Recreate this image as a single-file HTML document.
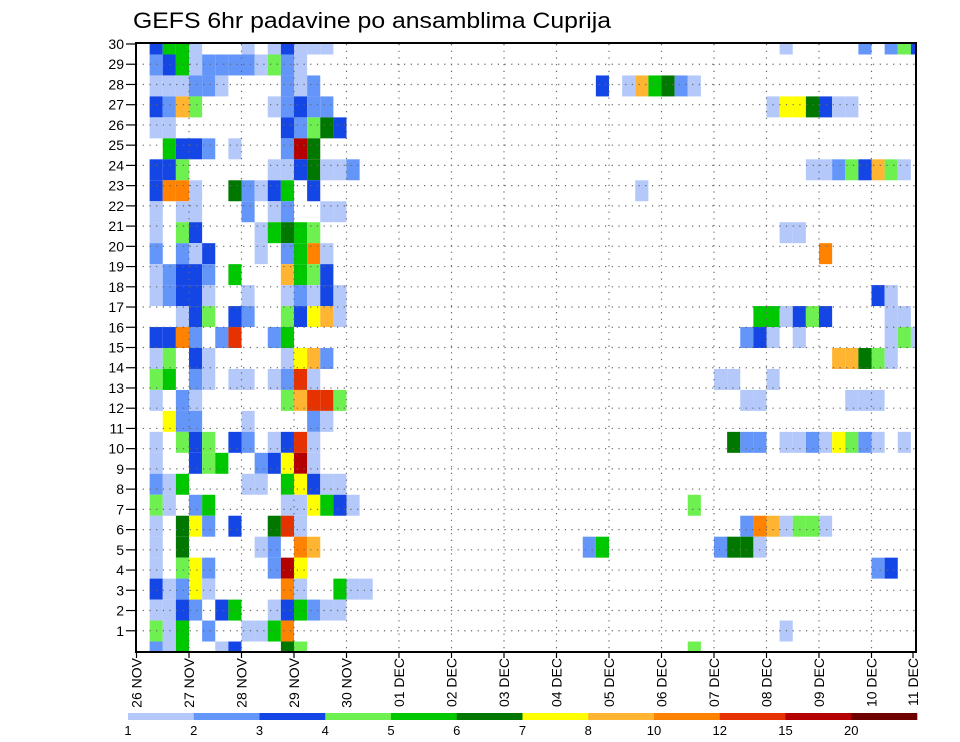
<!DOCTYPE html>
<html><head><meta charset="utf-8"><title>GEFS 6hr padavine po ansamblima Cuprija</title>
<style>
html,body{margin:0;padding:0;background:#fff;}
svg{display:block;font-family:"Liberation Sans",sans-serif;}
</style></head>
<body>
<svg id="chart" width="960" height="742" viewBox="0 0 960 742" xmlns="http://www.w3.org/2000/svg">
<rect x="0" y="0" width="960" height="742" fill="#fff"/>
<text x="133" y="28" font-size="22" textLength="478" lengthAdjust="spacingAndGlyphs" fill="#000">GEFS 6hr padavine po ansamblima Cuprija</text>
<g id="cells"></g>
<g id="grid"></g>
<g id="axes"></g>
<g id="legend"></g>
</svg>
<script>
// ---- data ----
// precipitation level codes per ensemble member row (top row first), 6-hourly steps
// left block: steps 1..17, right block: steps 34..59
const gridLeft = [
"3551...1.13111...",
"235122221421.....",
"111221....212....",
"3284.....12322...",
"11........32463..",
".5332.1...2b6....",
"334......1136112.",
"3991..62135.3....",
"1.11...2.12..11..",
"1.43....15654....",
"2.213...1.2591...",
"12332.5...8543...",
"12331..1..12131..",
"..134.32..43781..",
"3392.2a..25......",
"14.31.....1782...",
"45.21.11.12a1....",
"1.21......48aa4..",
".722...1....21...",
"1.434.32.13a1....",
"1..345..237b1....",
"215....11.57311..",
"41.25.....117531.",
"1.672.3..6a1.....",
"1.6.....12.98....",
"1.472....2b7.....",
"31271.....91..511",
"1132.35..135211..",
"415.2..1159......",
"215..13...64....."
];
const gridRight = [
"...............1.....2.243",
"..........................",
".3.185621.................",
"..............1776311.....",
"..........................",
"..........................",
".................11243841.",
"....1.....................",
"..........................",
"...............11.........",
"..................9.......",
"..........................",
"......................31..",
".............551343....11.",
"............231.1......141",
"...................88641..",
"..........11..1...........",
"............11......111...",
"..........................",
"...........622.11217421.1.",
"..........................",
"..........................",
"........4.................",
"............2981441.......",
"25........2661............",
"......................23..",
"..........................",
"..........................",
"...............1..........",
"........4................."
];
const levelCodes = ["1","2","3","4","5","6","7","8","9","a","b","c"];
const levelValues = [1.5,2.5,3.5,4.5,5.5,6.5,7.5,9,11,13.5,17.5,25];
const thresholds = [1,2,3,4,5,6,7,8,10,12,15,20];
const colors = ["#b4c8fa","#6496fa","#1446e6","#6ef050","#00c800","#007800","#ffff00","#ffb432","#ff8200","#e63200","#b40000","#6e0000"];
const memberLabels = [1,2,3,4,5,6,7,8,9,10,11,12,13,14,15,16,17,18,19,20,21,22,23,24,25,26,27,28,29,30];
const dayLabels = ["26 NOV","27 NOV","28 NOV","29 NOV","30 NOV","01 DEC","02 DEC","03 DEC","04 DEC","05 DEC","06 DEC","07 DEC","08 DEC","09 DEC","10 DEC","11 DEC"];

// ---- layout ----
const NS = "http://www.w3.org/2000/svg";
const PL = 136, PR = 916, PT = 44, PB = 652;
const nRows = gridLeft.length;
const dayW = 52.5, stepW = dayW / 4;
function xStep(j){ return 136.5 + stepW * j; }          // left edge of 6h step j
function xDay(d){ return 136.5 + dayW * d; }
function yRowCenter(k){ return PT + (PB - PT) / (nRows - 1) * k; } // k = row from top
const rowH = (PB - PT) / (nRows - 1);
function yLabel(n){ return PT + (30 - n) * (PB - PT - 1) / 30 + 0; }
function colorFor(v){
  let idx = -1;
  for (let i = 0; i < thresholds.length; i++) if (v >= thresholds[i]) idx = i;
  return idx < 0 ? null : colors[idx];
}
function mk(tag, attrs, parent){
  const e = document.createElementNS(NS, tag);
  for (const k in attrs) e.setAttribute(k, attrs[k]);
  parent.appendChild(e);
  return e;
}

// ---- cells ----
const gCells = document.getElementById("cells");
for (let k = 0; k < nRows; k++) {
  const full = "." + gridLeft[k] + "................" + gridRight[k];
  for (let j = 0; j < full.length; j++) {
    const c = full[j];
    const li = levelCodes.indexOf(c);
    if (li < 0) continue;
    const v = levelValues[li];
    const col = colorFor(v);
    if (!col) continue;
    let x0 = xStep(j), x1 = xStep(j + 1);
    let y0 = yRowCenter(k) - rowH / 2, y1 = yRowCenter(k) + rowH / 2;
    x0 = Math.max(x0, PL); x1 = Math.min(x1, PR);
    y0 = Math.max(y0, PT); y1 = Math.min(y1, PB);
    const r = mk("rect", {x:x0.toFixed(2), y:y0.toFixed(2), width:(x1-x0).toFixed(2), height:(y1-y0).toFixed(2), fill:col}, gCells);
    
    
  }
}

// ---- grid ----
const gGrid = document.getElementById("grid");
for (let n = 1; n < 30; n++) {
  const y = yLabel(n);
  const l = mk("line", {x1:PL, x2:PR, y1:y, y2:y, stroke:"#666", "stroke-width":1.2, "stroke-dasharray":"1.2 5.5"}, gGrid);
  
  
}
for (let d = 1; d < 15; d++) {
  const x = xDay(d);
  const l = mk("line", {x1:x, x2:x, y1:PT, y2:PB, stroke:"#666", "stroke-width":1.2, "stroke-dasharray":"1.2 5.5"}, gGrid);
  
  
}

// ---- axes ----
const gAx = document.getElementById("axes");
const frame = mk("rect", {x:PL, y:PT-1, width:PR-PL, height:PB-PT+1, fill:"none", stroke:"#000", "stroke-width":2}, gAx);


for (const n of memberLabels) {
  const y = yLabel(n);
  const t = mk("line", {x1:126, x2:PL, y1:y, y2:y, stroke:"#000", "stroke-width":1.2}, gAx);
  
  
  const tx = mk("text", {x:124, y:y+5, "font-size":14, "text-anchor":"end", fill:"#000"}, gAx);
  tx.textContent = n;
  
  
}
dayLabels.forEach((lab, d) => {
  let x = xDay(d);
  if (x > PR) x = PR - 3;
  const t = mk("line", {x1:x, x2:x, y1:PB, y2:PB+6, stroke:"#000", "stroke-width":1.2}, gAx);
  
  
  const tx = mk("text", {transform:"translate(" + (x+5).toFixed(1) + "," + (PB+6) + ") rotate(-90)", "font-size":14, "text-anchor":"end", fill:"#000", "xml:space":"preserve"}, gAx);
  tx.textContent = lab.replace(" ", "  ");
  
  
});

// ---- legend ----
const gLeg = document.getElementById("legend");
const LX0 = 128, LX1 = 917, segW = (LX1 - LX0) / colors.length;
colors.forEach((c, i) => {
  const r = mk("rect", {x:(LX0 + i*segW).toFixed(2), y:713, width:(segW+0.3).toFixed(2), height:7, fill:c}, gLeg);
  
  
});
thresholds.forEach((v, i) => {
  const tx = mk("text", {x:(LX0 + i*segW).toFixed(2), y:735, "font-size":13, "text-anchor":"middle", fill:"#000"}, gLeg);
  tx.textContent = v;
  
  
});
</script>
</body></html>
